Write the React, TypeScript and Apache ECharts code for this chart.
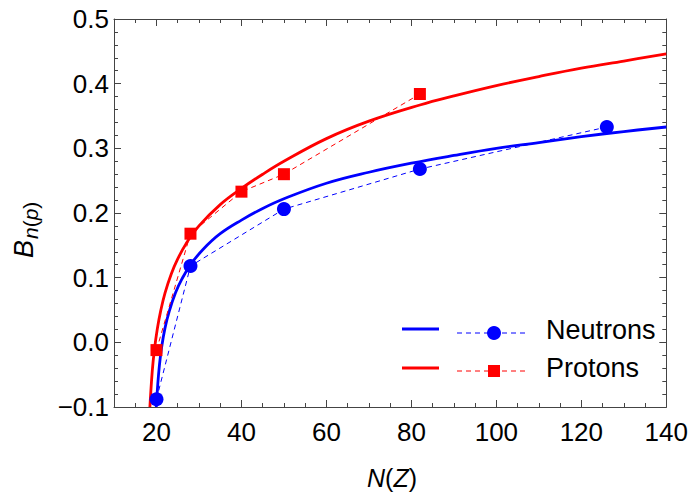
import React, { useEffect, useRef } from 'react';
import * as echarts from 'echarts';

// ---- data ----
const xTicks = [20, 40, 60, 80, 100, 120, 140];

const neutronN = [20, 28, 50, 82, 126];
const neutronB = [-0.088, 0.118, 0.206, 0.268, 0.333];

const protonN = [20, 28, 40, 50, 82];
const protonB = [-0.012, 0.168, 0.233, 0.26, 0.384];

// solid fitted curves
const neutronFitN = [19.95, 20.3, 20.7, 21.2, 22.0, 23.0, 24.5, 26.0, 28.0, 31.0, 35.0, 40.0, 45.0, 50.0, 60.0, 70.0, 80.0, 90.0, 100.0, 110.0, 120.0, 130.0, 140.0];
const neutronFitB = [-0.1, -0.065, -0.035, -0.008, 0.022, 0.048, 0.077, 0.098, 0.12, 0.144, 0.168, 0.189, 0.207, 0.222, 0.246, 0.263, 0.277, 0.289, 0.3, 0.309, 0.318, 0.326, 0.333];

const protonFitN = [18.45, 19.0, 19.5, 20.2, 21.0, 22.0, 23.5, 25.0, 27.0, 30.0, 35.0, 40.0, 45.0, 50.0, 60.0, 70.0, 82.0, 90.0, 100.0, 110.0, 120.0, 130.0, 140.0];
const protonFitB = [-0.1, -0.045, -0.012, 0.021, 0.049, 0.076, 0.106, 0.129, 0.153, 0.18, 0.213, 0.238, 0.26, 0.28, 0.315, 0.342, 0.367, 0.381, 0.397, 0.411, 0.424, 0.435, 0.446];

const legendNames = ['Neutrons', 'Protons'];

const zip = (a: number[], b: number[]) => a.map((v, i) => [v, b[i]]);

const FONT = '"Liberation Sans", Arial, Helvetica, sans-serif';
const FRAME = '#444';
const BLUE = '#0000ff';
const RED = '#ff0000';

export default function App() {
  const ref = useRef<HTMLDivElement>(null);

  useEffect(() => {
    const chart = echarts.init(ref.current!, null, { renderer: 'svg' });

    const tickStyle = { color: FRAME, width: 1 };
    const baseX = {
      type: 'value',
      min: 10,
      max: 140,
      splitLine: { show: false },
      minorSplitLine: { show: false },
    };
    const majorX = (pos: string, labels: boolean) => ({
      ...baseX,
      position: pos,
      interval: 10,
      axisLine: { show: true, onZero: false, lineStyle: tickStyle },
      axisTick: { show: true, inside: true, length: 7, customValues: xTicks, lineStyle: tickStyle },
      axisLabel: labels
        ? { show: true, customValues: xTicks, margin: 12, color: '#000', fontSize: 26, fontFamily: FONT }
        : { show: false },
    });
    const minorX = (pos: string) => ({
      ...baseX,
      position: pos,
      interval: 5,
      axisLine: { show: false, onZero: false },
      axisTick: { show: true, inside: true, length: 4, lineStyle: tickStyle },
      axisLabel: { show: false },
    });
    const yAx = (pos: string, labels: boolean) => ({
      type: 'value',
      min: -0.1,
      max: 0.5,
      interval: 0.1,
      position: pos,
      splitLine: { show: false },
      minorSplitLine: { show: false },
      axisLine: { show: true, onZero: false, lineStyle: tickStyle },
      axisTick: { show: true, inside: true, length: 7, lineStyle: tickStyle },
      minorTick: { show: true, splitNumber: 5, length: 4, lineStyle: tickStyle },
      axisLabel: labels
        ? {
            show: true,
            margin: 5,
            color: '#000',
            fontSize: 26,
            fontFamily: FONT,
            formatter: (v: number) => (Math.abs(v) < 1e-9 ? '0.0' : v.toFixed(1).replace('-', '\u2212')),
          }
        : { show: false },
    });

    const option = {
      animation: false,
      backgroundColor: '#fff',
      grid: { left: 114, right: 22, top: 19, bottom: 88, containLabel: false },
      xAxis: [majorX('bottom', true), minorX('bottom'), majorX('top', false), minorX('top')],
      yAxis: [yAx('left', true), yAx('right', false)],
      series: [
        {
          type: 'line',
          name: 'Neutrons fit',
          data: zip(neutronFitN, neutronFitB),
          symbol: 'none',
          smooth: 0.4,
          lineStyle: { color: BLUE, width: 2.8 },
          z: 2,
        },
        {
          type: 'line',
          name: 'Protons fit',
          data: zip(protonFitN, protonFitB),
          symbol: 'none',
          smooth: 0.4,
          lineStyle: { color: RED, width: 2.8 },
          z: 2,
        },
        {
          type: 'line',
          name: legendNames[0],
          data: zip(neutronN, neutronB),
          symbol: 'circle',
          symbolSize: 14,
          itemStyle: { color: BLUE },
          lineStyle: { color: BLUE, width: 1, type: [5, 4] },
          z: 3,
        },
        {
          type: 'line',
          name: legendNames[1],
          data: zip(protonN, protonB),
          symbol: 'rect',
          symbolSize: 12,
          itemStyle: { color: RED },
          lineStyle: { color: RED, width: 1, type: [5, 4] },
          z: 3,
        },
      ],
      graphic: [
        // legend row 1
        { type: 'line', shape: { x1: 402, y1: 329, x2: 439, y2: 329 }, style: { stroke: BLUE, lineWidth: 2.8 } },
        { type: 'line', shape: { x1: 457, y1: 333, x2: 527, y2: 333 }, style: { stroke: BLUE, lineWidth: 1, lineDash: [5, 4] } },
        { type: 'circle', shape: { cx: 494, cy: 333, r: 7 }, style: { fill: BLUE } },
        {
          type: 'text',
          x: 546,
          y: 330,
          style: { text: legendNames[0], fill: '#000', fontSize: 27, fontFamily: FONT, align: 'left', verticalAlign: 'middle' },
        },
        // legend row 2
        { type: 'line', shape: { x1: 402, y1: 368, x2: 439, y2: 368 }, style: { stroke: RED, lineWidth: 2.8 } },
        { type: 'line', shape: { x1: 457, y1: 371, x2: 527, y2: 371 }, style: { stroke: RED, lineWidth: 1, lineDash: [5, 4] } },
        { type: 'rect', shape: { x: 488, y: 365, width: 12, height: 12 }, style: { fill: RED } },
        {
          type: 'text',
          x: 546,
          y: 368,
          style: { text: legendNames[1], fill: '#000', fontSize: 27, fontFamily: FONT, align: 'left', verticalAlign: 'middle' },
        },
        // x axis title
        {
          type: 'text',
          x: 392,
          y: 478,
          style: {
            text: '{i|N}(' + '{i|Z})',
            rich: { i: { fontStyle: 'italic', fontSize: 25, fontFamily: FONT, fill: '#000' } },
            fill: '#000',
            fontSize: 25,
            fontFamily: FONT,
            align: 'center',
            verticalAlign: 'middle',
          },
        },
        // y axis title, rotated
        {
          type: 'group',
          x: 24,
          y: 258,
          rotation: Math.PI / 2,
          children: [
            {
              type: 'text',
              x: 0,
              y: 0,
              style: { text: 'B', fontStyle: 'italic', fontSize: 27, fontFamily: FONT, fill: '#000', align: 'left', verticalAlign: 'middle' },
            },
            {
              type: 'text',
              x: 19,
              y: 6,
              style: {
                text: '{i|n}(' + '{i|p})',
                rich: { i: { fontStyle: 'italic', fontSize: 21, fontFamily: FONT, fill: '#000' } },
                fontSize: 21,
                fontFamily: FONT,
                fill: '#000',
                align: 'left',
                verticalAlign: 'middle',
              },
            },
          ],
        },
      ],
    };

    chart.setOption(option as any);
    return () => chart.dispose();
  }, []);

  return (
    <div
      ref={ref}
      style={{ position: 'absolute', left: 0, top: 0, width: 691, height: 495, background: '#fff' }}
    />
  );
}
